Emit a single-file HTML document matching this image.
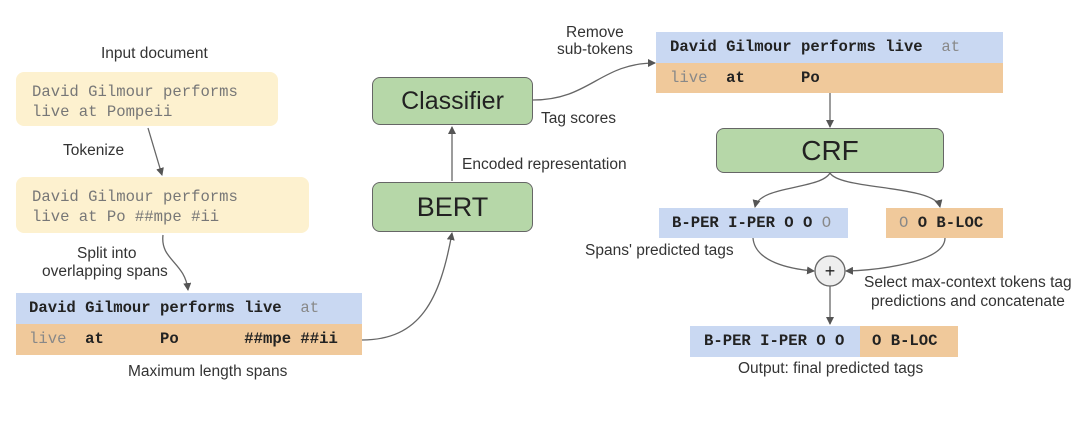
<!DOCTYPE html>
<html><head><style>
body{margin:0;width:1080px;height:425px;background:#fff;position:relative;overflow:hidden;font-family:"Liberation Sans",sans-serif;}
.a{position:absolute;}
.lbl{position:absolute;font-size:15.5px;color:#333;white-space:nowrap;}
.mono{font-family:"Liberation Mono",monospace;font-size:15.6px;}
.y{background:#fdf1cf;border-radius:8px;color:#777;line-height:20px;padding:10px 0 0 16px;box-sizing:border-box;}
.bl{background:#c9d8f2;}
.or{background:#f0c99b;}
.row{position:absolute;white-space:pre;line-height:30px;box-sizing:border-box;color:#222;}
.g{position:absolute;background:#b6d7a8;border:1.5px solid #666;border-radius:8px;box-sizing:border-box;display:flex;align-items:center;justify-content:center;color:#222;}
b{font-weight:bold;color:#222}
.gr{color:#888}
</style></head><body>
<div class="lbl" style="left:101px;top:45px;">Input document</div>
<div class="a y mono" style="left:16px;top:72px;width:262px;height:54px;">David Gilmour performs<br>live at Pompeii</div>
<div class="lbl" style="left:63px;top:142px;">Tokenize</div>
<div class="a y mono" style="left:16px;top:177px;width:293px;height:56px;">David Gilmour performs<br>live at Po ##mpe #ii</div>
<div class="lbl" style="left:77px;top:245px;">Split into</div>
<div class="lbl" style="left:42px;top:263px;">overlapping spans</div>
<div class="row mono bl" style="left:16px;top:293px;width:346px;height:31px;padding-left:13px;"><b>David Gilmour performs live</b>  <span class="gr">at</span></div>
<div class="row mono or" style="left:16px;top:324px;width:346px;height:31px;padding-left:13px;"><span class="gr">live</span>  <b>at</b>      <b>Po</b>       <b>##mpe ##ii</b></div>
<div class="lbl" style="left:128px;top:363px;">Maximum length spans</div>

<div class="g" style="left:372px;top:77px;width:161px;height:48px;font-size:25px;">Classifier</div>
<div class="g" style="left:372px;top:182px;width:161px;height:50px;font-size:27px;">BERT</div>
<div class="lbl" style="left:462px;top:156px;">Encoded representation</div>
<div class="lbl" style="left:541px;top:110px;">Tag scores</div>
<div class="lbl" style="left:566px;top:24px;">Remove</div>
<div class="lbl" style="left:557px;top:41px;">sub-tokens</div>

<div class="row mono bl" style="left:656px;top:32px;width:347px;height:31px;padding-left:14px;"><b>David Gilmour performs live</b>  <span class="gr">at</span></div>
<div class="row mono or" style="left:656px;top:63px;width:347px;height:30px;padding-left:14px;"><span class="gr">live</span>  <b>at</b>      <b>Po</b></div>
<div class="g" style="left:716px;top:128px;width:228px;height:45px;font-size:28px;">CRF</div>
<div class="row mono bl" style="left:659px;top:208px;width:189px;height:30px;padding-left:13px;"><b>B-PER I-PER O O</b> <span class="gr">O</span></div>
<div class="row mono or" style="left:886px;top:208px;width:117px;height:30px;padding-left:13px;"><span class="gr">O</span> <b>O B-LOC</b></div>
<div class="lbl" style="left:585px;top:242px;">Spans' predicted tags</div>
<div class="lbl" style="left:864px;top:274px;">Select max-context tokens tag</div>
<div class="lbl" style="left:871px;top:293px;">predictions and concatenate</div>
<div class="row mono bl" style="left:690px;top:326px;width:170px;height:31px;padding-left:14px;"><b>B-PER I-PER O O</b></div>
<div class="row mono or" style="left:860px;top:326px;width:98px;height:31px;padding-left:12px;"><b>O B-LOC</b></div>
<div class="lbl" style="left:738px;top:360px;">Output: final predicted tags</div>

<svg class="a" style="left:0;top:0" width="1080" height="425">
<defs><marker id="m" markerWidth="8" markerHeight="8" refX="7" refY="4" orient="auto" markerUnits="userSpaceOnUse"><path d="M0,0L8,4L0,8z" fill="#555"/></marker></defs>
<g fill="none" stroke="#666" stroke-width="1.3">
<path d="M148,128 L162,175" marker-end="url(#m)"/>
<path d="M163,235 C160,260 185,262 188,290" marker-end="url(#m)"/>
<path d="M362,340 C420,340 440,300 452,233" marker-end="url(#m)"/>
<path d="M452,181 L452,127" marker-end="url(#m)"/>
<path d="M533,100 C590,100 600,63 655,63" marker-end="url(#m)"/>
<path d="M830,93 L830,127" marker-end="url(#m)"/>
<path d="M830,173 C820,190 760,185 755,207" marker-end="url(#m)"/>
<path d="M830,173 C840,190 935,185 940,207" marker-end="url(#m)"/>
<path d="M753,238 C755,262 790,269 814,271" marker-end="url(#m)"/>
<path d="M945,238 C945,262 880,270 846,271" marker-end="url(#m)"/>
<path d="M830,286 L830,324" marker-end="url(#m)"/>
</g>
<circle cx="830" cy="271" r="15" fill="#eee" stroke="#666" stroke-width="1.3"/>
<text x="830" y="277" text-anchor="middle" font-size="18" font-family="Liberation Sans" fill="#222">+</text>
</svg>
</body></html>
